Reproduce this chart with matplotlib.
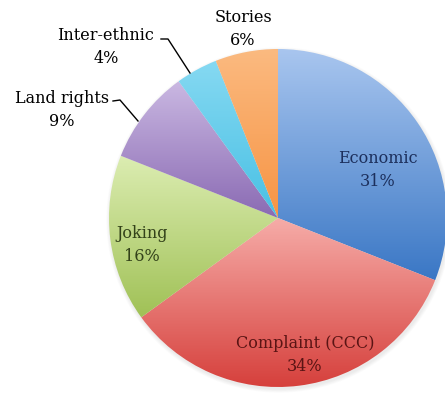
import numpy as np
import matplotlib
matplotlib.use("Agg")
import matplotlib.pyplot as plt
from matplotlib.colors import LinearSegmentedColormap
from matplotlib.patches import Circle

# category shares, clockwise from 12 o'clock
categories = ["Economic", "Complaint (CCC)", "Joking", "Land rights", "Inter-ethnic", "Stories"]
shares = [31, 34, 16, 9, 4, 6]

# light (top) / dark (bottom) gradient ends per wedge
top_colors = ["#a9c6ef", "#f6aca8", "#dcedb2", "#cab8e2", "#86d9f2", "#fbba80"]
bottom_colors = ["#3a77c5", "#d6403c", "#a0c156", "#8a6ab3", "#48c0e4", "#f79444"]
text_colors = ["#1c2f5c", "#5a1414", "#33421a", "black", "black", "black"]

W, H = 445, 396
cx, cy, r = 278, H - 218, 169

fig = plt.figure(figsize=(W / 100, H / 100), dpi=100)
ax = fig.add_axes([0, 0, 1, 1])

# soft shadow under the pie
for k in range(5):
    ax.add_patch(Circle((cx + 1, cy - 2), r + 0.5 + k * 0.8, color="black",
                        alpha=0.015, lw=0, zorder=0))

wedges, _ = ax.pie(shares, startangle=90, counterclock=False, center=(cx, cy),
                   radius=r, frame=True,
                   wedgeprops=dict(linewidth=0, facecolor="none"))

grad = np.linspace(0, 1, 256).reshape(-1, 1)
for w, c0, c1 in zip(wedges, top_colors, bottom_colors):
    bb = w.get_path().get_extents()
    cmap = LinearSegmentedColormap.from_list("g", [c1, c0])
    im = ax.imshow(grad, cmap=cmap, origin="lower", aspect="auto",
                   extent=[bb.x0, bb.x1, bb.y0, bb.y1], zorder=2,
                   interpolation="bilinear")
    im.set_clip_path(w)
ax.set_xlim(0, W)
ax.set_ylim(0, H)
ax.axis("off")

font = dict(family="DejaVu Serif", fontsize=11.5, ha="center", va="center",
            linespacing=1.45)

# label positions in pixel coords (x, y from top)
label_pos = [(378, 170), (305, 355), (142, 245), (62, 110), (106, 47), (243, 29)]
for name, val, (x, y), tc in zip(categories, shares, label_pos, text_colors):
    ax.text(x, H - y, f"{name}\n{val}%", color=tc, zorder=5, **font)

# leader lines for the small wedges
ax.plot([113, 120, 138], [H - 101, H - 100, H - 121], color="black", lw=1, zorder=4)
ax.plot([161, 168, 190], [H - 39, H - 39, H - 73], color="black", lw=1, zorder=4)

fig.savefig("out.png", dpi=100)
